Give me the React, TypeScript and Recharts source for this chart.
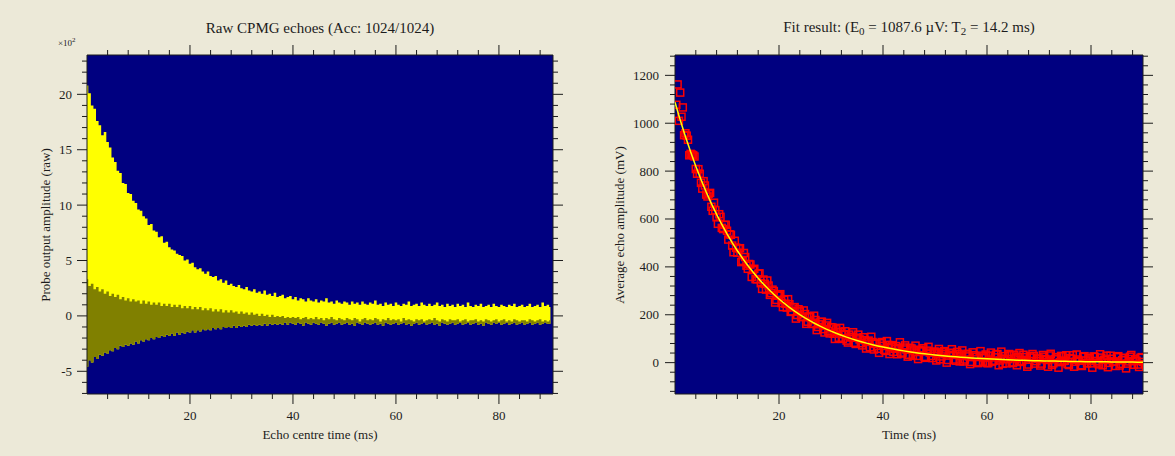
import { Area, CartesianGrid, ComposedChart, Line, LineChart, Scatter, XAxis, YAxis } from 'recharts';

// raw echo trace, sampled every 0.5 ms from 0 to 90 ms (units x10^2)
const SAMPLE_STEP_MS = 0.5;

const yellowTop = [
  20.8, 20.1, 19.0, 18.7, 17.6, 17.2, 16.3, 16.6, 15.7, 15.2,
  14.3, 13.9, 13.1, 12.9, 12.0, 11.9, 11.1, 11.0, 10.4, 10.2,
  9.6, 9.5, 9.0, 8.8, 8.2, 8.3, 7.7, 7.6, 7.1, 7.2,
  6.6, 6.7, 6.2, 6.0, 5.9, 5.6, 5.5, 5.4, 5.0, 5.1,
  4.7, 4.8, 4.4, 4.2, 4.3, 4.0, 3.8, 4.0, 3.6, 3.5,
  3.6, 3.2, 3.3, 3.0, 3.2, 2.8, 2.9, 2.7, 2.6, 2.8,
  2.5, 2.4, 2.6, 2.3, 2.2, 2.4, 2.1, 2.2, 2.0, 2.3,
  1.9, 2.0, 1.8, 2.1, 1.7, 1.8, 1.9, 1.6, 1.7, 1.8,
  1.5, 1.7, 1.4, 1.6, 1.5, 1.3, 1.6, 1.4, 1.3, 1.5,
  1.2, 1.4, 1.3, 1.6, 1.2, 1.3, 1.1, 1.4, 1.2, 1.1,
  1.3, 1.2, 1.0, 1.3, 1.1, 1.2, 1.0, 1.3, 1.1, 1.0,
  1.2, 1.1, 1.4, 1.0, 1.1, 0.9, 1.2, 1.0, 1.1, 0.9,
  1.2, 1.0, 0.9, 1.1, 1.0, 1.3, 0.9, 1.0, 1.1, 0.9,
  1.2, 1.0, 0.9, 1.1, 0.9, 1.0, 1.2, 0.9, 1.0, 0.8,
  1.1, 0.9, 1.0, 0.8, 1.1, 0.9, 1.0, 0.8, 1.2, 0.9,
  0.8, 1.0, 0.9, 1.1, 0.8, 0.9, 1.0, 0.8, 1.1, 0.9,
  0.8, 1.0, 0.9, 0.8, 1.0, 0.9, 1.1, 0.8, 0.9, 1.0,
  0.8, 0.9, 1.1, 0.8, 0.9, 1.0, 0.8, 1.2, 0.9, 1.0,
  0.8,
];

const oliveTop = [
  3.3, 2.7, 2.9, 2.4, 2.6, 2.2, 2.4, 2.0, 2.2, 1.8,
  2.0, 1.7, 1.9, 1.5, 1.7, 1.4, 1.6, 1.3, 1.5, 1.3,
  1.4, 1.1, 1.4, 1.1, 1.3, 1.0, 1.2, 1.0, 1.2, 0.9,
  1.1, 0.9, 1.1, 0.8, 1.0, 0.8, 1.0, 0.7, 0.9, 0.7,
  0.9, 0.6, 0.8, 0.6, 0.8, 0.5, 0.7, 0.5, 0.7, 0.4,
  0.6, 0.4, 0.6, 0.3, 0.5, 0.3, 0.5, 0.3, 0.4, 0.2,
  0.4, 0.2, 0.3, 0.1, 0.3, 0.1, 0.2, 0.0, 0.2, 0.0,
  0.1, -0.1, 0.1, -0.1, 0.0, -0.1, 0.0, -0.2, -0.1, -0.2,
  -0.1, -0.2, -0.1, -0.3, -0.2, -0.1, -0.3, -0.2, -0.3, -0.1,
  -0.3, -0.2, -0.4, -0.2, -0.3, -0.1, -0.3, -0.4, -0.2, -0.3,
  -0.4, -0.2, -0.3, -0.4, -0.2, -0.3, -0.5, -0.3, -0.2, -0.4,
  -0.3, -0.4, -0.2, -0.3, -0.5, -0.3, -0.4, -0.2, -0.4, -0.3,
  -0.4, -0.3, -0.5, -0.2, -0.4, -0.3, -0.4, -0.5, -0.3, -0.4,
  -0.3, -0.5, -0.4, -0.3, -0.4, -0.2, -0.4, -0.5, -0.3, -0.4,
  -0.5, -0.3, -0.4, -0.4, -0.3, -0.5, -0.4, -0.3, -0.5, -0.4,
  -0.4, -0.3, -0.5, -0.4, -0.5, -0.3, -0.4, -0.5, -0.4, -0.3,
  -0.5, -0.4, -0.3, -0.5, -0.4, -0.5, -0.3, -0.4, -0.5, -0.4,
  -0.4, -0.5, -0.3, -0.4, -0.5, -0.4, -0.3, -0.5, -0.4, -0.5,
  -0.4,
];

const oliveBottom = [
  -4.6, -4.0, -4.2, -3.7, -3.9, -3.5, -3.6, -3.3, -3.4, -3.1,
  -3.2, -2.9, -3.0, -2.7, -2.8, -2.6, -2.7, -2.5, -2.6, -2.3,
  -2.5, -2.2, -2.3, -2.1, -2.2, -2.0, -2.1, -1.9, -2.0, -1.8,
  -1.9, -1.7, -1.8, -1.6, -1.8, -1.5, -1.7, -1.5, -1.6, -1.4,
  -1.5, -1.3, -1.5, -1.3, -1.4, -1.2, -1.3, -1.2, -1.3, -1.1,
  -1.2, -1.1, -1.2, -1.0, -1.1, -1.0, -1.1, -0.9, -1.1, -0.9,
  -1.0, -0.9, -1.0, -0.8, -0.9, -0.8, -0.9, -0.8, -0.9, -0.7,
  -0.9, -0.7, -0.8, -0.7, -0.8, -0.7, -0.8, -0.6, -0.8, -0.6,
  -0.7, -0.8, -0.6, -0.7, -0.9, -0.6, -0.7, -0.8, -0.6, -0.7,
  -0.8, -0.6, -0.7, -0.9, -0.7, -0.6, -0.8, -0.7, -0.6, -0.8,
  -0.7, -0.6, -0.8, -0.7, -0.9, -0.6, -0.7, -0.8, -0.6, -0.7,
  -0.8, -0.7, -0.6, -0.8, -0.7, -0.9, -0.6, -0.7, -0.8, -0.7,
  -0.6, -0.8, -0.7, -0.6, -0.8, -0.7, -0.9, -0.7, -0.6, -0.8,
  -0.7, -0.6, -0.8, -0.7, -0.6, -0.8, -0.7, -0.9, -0.6, -0.7,
  -0.8, -0.7, -0.6, -0.8, -0.7, -0.6, -0.8, -0.7, -0.6, -0.8,
  -0.7, -0.6, -0.8, -0.7, -0.9, -0.6, -0.7, -0.8, -0.6, -0.7,
  -0.6, -0.8, -0.7, -0.6, -0.8, -0.7, -0.6, -0.8, -0.7, -0.6,
  -0.8, -0.7, -0.6, -0.8, -0.7, -0.6, -0.8, -0.7, -0.6, -0.7,
  -0.7,
];

// averaged echo amplitudes (mV), odd echoes: every 0.5 ms from 0.5 ms
const echoAmplitudesA = [
  1162, 1128, 1066, 958, 931, 872, 866, 809, 808, 751,
  758, 702, 706, 651, 668, 607, 620, 563, 575, 551,
  536, 489, 509, 459, 478, 425, 441, 392, 410, 387,
  349, 371, 332, 347, 305, 322, 290, 299, 262, 281,
  249, 263, 230, 244, 214, 232, 199, 214, 190, 203,
  171, 190, 162, 178, 149, 170, 140, 155, 131, 148,
  121, 139, 104, 128, 119, 92, 117, 108, 83, 104,
  97, 72, 94, 88, 64, 86, 79, 58, 81, 70,
  49, 74, 66, 45, 69, 61, 38, 63, 55, 33,
  59, 51, 28, 54, 47, 24, 50, 42, 19, 46,
  39, 14, 43, 35, 11, 40, 32, 8, 37, 29,
  5, 34, 26, 3, 31, 24, 1, 29, 21, -2,
  29, 4, 22, 36, 9, -5, 27, 15, 31, -2,
  18, 24, 3, 33, 12, -8, 21, 28, 6, 17,
  -4, 25, 11, 30, -9, 14, 22, 2, 27, 8,
  -6, 19, 31, 4, 13, -11, 24, 9, 18, -3,
  26, 7, -7, 21, 12, 29, -1, 16, 5, 23,
  -12, 10, 19, -4, 25, 6, 14, -8, 20, 3,
];

// even echoes: every 0.5 ms from 0.25 ms
const echoAmplitudesB = [
  1077, 1010, 1027, 950, 948, 866, 869, 861, 789, 789,
  727, 740, 694, 709, 634, 637, 580, 609, 558, 576,
  514, 534, 461, 480, 477, 420, 458, 405, 412, 358,
  392, 348, 373, 308, 329, 343, 283, 305, 251, 280,
  286, 232, 246, 265, 212, 231, 184, 223, 192, 218,
  162, 193, 162, 196, 136, 160, 171, 126, 166, 122,
  147, 99, 129, 145, 99, 131, 84, 105, 127, 78,
  117, 81, 106, 59, 92, 108, 55, 79, 41, 86,
  53, 90, 36, 73, 58, 35, 85, 42, 72, 25,
  62, 29, 71, 15, 49, 60, 20, 66, 28, 45,
  9, 57, 26, 48, 0, 41, 56, 13, 45, 5,
  51, 13, 37, -6, 43, 24, -2, 48, 4, 34,
  -2, 42, 8, 34, -11, 46, 15, -3, 36, 1,
  33, -11, 40, 6, 23, -17, 27, 36, -4, 15,
  -12, 32, 15, -17, 37, -3, 23, -21, 28, 7,
  31, -10, 16, -17, 34, 8, -14, 27, -3, 19,
  -21, 24, 0, 35, -11, 12, -19, 29, 4, -14,
  27, -5, 20, -24, 15, 32, -9, 8, -18, 23,
];

// fitted decay curve (mV), one point per ms from 0 to 90
const fitCurve = [
  1087.6, 1013.7, 944.8, 880.5, 820.7, 764.9, 712.9, 664.4, 619.2, 577.1,
  537.9, 501.3, 467.2, 435.5, 405.9, 378.3, 352.6, 328.6, 306.3, 285.4,
  266.0, 248.0, 231.1, 215.4, 200.8, 187.1, 174.4, 162.5, 151.5, 141.2,
  131.6, 122.6, 114.3, 106.5, 99.3, 92.5, 86.2, 80.4, 74.9, 69.8,
  65.1, 60.7, 56.5, 52.7, 49.1, 45.8, 42.6, 39.7, 37.0, 34.5,
  32.2, 30.0, 27.9, 26.0, 24.3, 22.6, 21.1, 19.7, 18.3, 17.1,
  15.9, 14.8, 13.8, 12.9, 12.0, 11.2, 10.4, 9.7, 9.1, 8.4,
  7.9, 7.3, 6.8, 6.4, 5.9, 5.5, 5.2, 4.8, 4.5, 4.2,
  3.9, 3.6, 3.4, 3.2, 2.9, 2.7, 2.6, 2.4, 2.2, 2.1,
  1.9,
];

const timeTicks = [4, 8, 12, 16, 20, 24, 28, 32, 36, 40, 44, 48, 52, 56, 60, 64, 68, 72, 76, 80, 84, 88];
const timeMajor = [20, 40, 60, 80];
const rawTicks = [-7, -6, -5, -4, -3, -2, -1, 0, 1, 2, 3, 4, 5, 6, 7, 8, 9, 10, 11, 12, 13, 14, 15, 16, 17, 18, 19, 20, 21, 22, 23];
const rawMajor = [-5, 0, 5, 10, 15, 20];
const echoTicks = [
  -120, -80, -40, 0, 40, 80, 120, 160, 200, 240, 280, 320, 360, 400, 440, 480, 520, 560,
  600, 640, 680, 720, 760, 800, 840, 880, 920, 960, 1000, 1040, 1080, 1120, 1160, 1200, 1240, 1280,
];
const echoMajor = [0, 200, 400, 600, 800, 1000, 1200];

const rawTable = yellowTop.map((top, i) => ({
  t: i * SAMPLE_STEP_MS,
  yellow: [oliveBottom[i], top],
  olive: [oliveBottom[i], oliveTop[i]],
}));
const echoTable = [
  ...echoAmplitudesB.map((v, i) => ({ t: (i + 0.5) * SAMPLE_STEP_MS, v })),
  ...echoAmplitudesA.map((v, i) => ({ t: (i + 1) * SAMPLE_STEP_MS, v })),
];
const fitTable = fitCurve.map((fit, i) => ({ t: i, fit }));

const INK = '#1c1c1c';
const SERIF = '"Liberation Serif", "Times New Roman", serif';
const PLOT_BG = '#000080';
const ECHO_DOMAIN = [-131, 1285];
const FIT_TIME_DOMAIN = [0, 90];

function makeTick(side: string, majors: number[], labelGap = 15) {
  return (props: any) => {
    const { x, y, payload } = props;
    const v = payload.value;
    const major = majors.includes(v);
    const len = major ? 10 : 5;
    const label = { fontFamily: SERIF, fontSize: 13, fill: INK };
    if (side === 'bottom') {
      return (
        <g>
          <line x1={x} x2={x} y1={y} y2={y + len} stroke={INK} />
          {major && (
            <text x={x} y={y + 26} textAnchor="middle" {...label}>
              {v}
            </text>
          )}
        </g>
      );
    }
    if (side === 'top') {
      return <line x1={x} x2={x} y1={y} y2={y - len} stroke={INK} />;
    }
    if (side === 'left') {
      return (
        <g>
          <line x1={x - len} x2={x} y1={y} y2={y} stroke={INK} />
          {major && (
            <text x={x - labelGap} y={y + 4.5} textAnchor="end" {...label}>
              {v}
            </text>
          )}
        </g>
      );
    }
    return <line x1={x} x2={x + len} y1={y} y2={y} stroke={INK} />;
  };
}

const axisLine = { stroke: INK };

function Frame({
  timeDomain,
  yTicks,
  yMajor,
  yDomain,
  labelGap,
}: {
  timeDomain: number[];
  yTicks: number[];
  yMajor: number[];
  yDomain: number[];
  labelGap: number;
}) {
  const common = {
    type: 'number' as const,
    allowDataOverflow: true,
    interval: 0 as const,
    tickSize: 0,
    tickMargin: 0,
    tickLine: false,
    axisLine,
  };
  return [
    <CartesianGrid key="bg" horizontal={false} vertical={false} fill={PLOT_BG} fillOpacity={1} />,
    <XAxis key="xb" {...common} dataKey="t" domain={timeDomain} ticks={timeTicks} height={1} tick={makeTick('bottom', timeMajor)} />,
    <XAxis
      key="xt"
      {...common}
      xAxisId="top"
      orientation="top"
      dataKey="t"
      domain={timeDomain}
      ticks={timeTicks}
      height={1}
      tick={makeTick('top', timeMajor)}
    />,
    <YAxis key="yl" {...common} domain={yDomain} ticks={yTicks} width={1} tick={makeTick('left', yMajor, labelGap)} />,
    <YAxis
      key="yr"
      {...common}
      yAxisId="right"
      orientation="right"
      domain={yDomain}
      ticks={yTicks}
      width={1}
      tick={makeTick('right', yMajor)}
    />,
  ];
}

const textBase: React.CSSProperties = {
  position: 'absolute',
  fontFamily: SERIF,
  color: INK,
  whiteSpace: 'nowrap',
  transform: 'translate(-50%, -50%)',
  lineHeight: 1,
};

export default function App() {
  return (
    <div
      style={{
        position: 'absolute',
        left: 0,
        top: 0,
        width: 1175,
        height: 456,
        background: '#ECE9D8',
        overflow: 'hidden',
      }}
    >
      <div style={{ position: 'absolute', left: 0, top: 0 }}>
        <ComposedChart
          width={590}
          height={456}
          data={rawTable}
          margin={{ top: 54, left: 86, right: 36, bottom: 61 }}
        >
          {Frame({ timeDomain: [0, 90.5], yTicks: rawTicks, yMajor: rawMajor, yDomain: [-7.05, 23.55], labelGap: 15 })}
          <Area dataKey="yellow" type="step" stroke="none" fill="#FFFF00" fillOpacity={1} isAnimationActive={false} />
          <Area dataKey="olive" type="step" stroke="none" fill="#808000" fillOpacity={1} isAnimationActive={false} />
        </ComposedChart>
      </div>
      <div style={{ position: 'absolute', left: 590, top: 0 }}>
        <ComposedChart
          width={585}
          height={456}
          data={echoTable}
          margin={{ top: 54, left: 84, right: 31, bottom: 61 }}
        >
          {Frame({ timeDomain: FIT_TIME_DOMAIN, yTicks: echoTicks, yMajor: echoMajor, yDomain: ECHO_DOMAIN, labelGap: 16 })}
          <Scatter
            dataKey="v"
            isAnimationActive={false}
            shape={(p: any) => (
              <rect x={p.cx - 3.5} y={p.cy - 3.5} width={7} height={7} fill="none" stroke="#FF0000" strokeWidth={1.5} />
            )}
          />
        </ComposedChart>
      </div>
      {/* fit curve drawn on its own layer so it stays above the echo markers */}
      <div style={{ position: 'absolute', left: 590, top: 0 }}>
        <LineChart width={585} height={456} data={fitTable} margin={{ top: 55, left: 85, right: 32, bottom: 62 }}>
          <XAxis dataKey="t" type="number" domain={FIT_TIME_DOMAIN} allowDataOverflow hide />
          <YAxis type="number" domain={ECHO_DOMAIN} allowDataOverflow hide />
          <Line dataKey="fit" type="linear" stroke="#FFFF00" strokeWidth={1.5} dot={false} isAnimationActive={false} />
        </LineChart>
      </div>

      <div style={{ ...textBase, left: 320, top: 28, fontSize: 15 }}>Raw CPMG echoes (Acc: 1024/1024)</div>
      <div style={{ ...textBase, left: 909, top: 28, fontSize: 15 }}>
        Fit result: (E<sub style={{ fontSize: 11, verticalAlign: -3 }}>0</sub> = 1087.6 µV: T
        <sub style={{ fontSize: 11, verticalAlign: -3 }}>2</sub> = 14.2 ms)
      </div>
      <div style={{ ...textBase, fontSize: 9, transform: 'none', left: 58, top: 37 }}>
        ×10<sup style={{ fontSize: 7, verticalAlign: 4 }}>2</sup>
      </div>
      <div style={{ ...textBase, left: 320, top: 434, fontSize: 13 }}>Echo centre time (ms)</div>
      <div style={{ ...textBase, left: 909, top: 434, fontSize: 13 }}>Time (ms)</div>
      <div style={{ ...textBase, left: 45, top: 225, fontSize: 13, transform: 'translate(-50%, -50%) rotate(-90deg)' }}>
        Probe output amplitude (raw)
      </div>
      <div style={{ ...textBase, left: 619, top: 225, fontSize: 13, transform: 'translate(-50%, -50%) rotate(-90deg)' }}>
        Average echo amplitude (mV)
      </div>
    </div>
  );
}
